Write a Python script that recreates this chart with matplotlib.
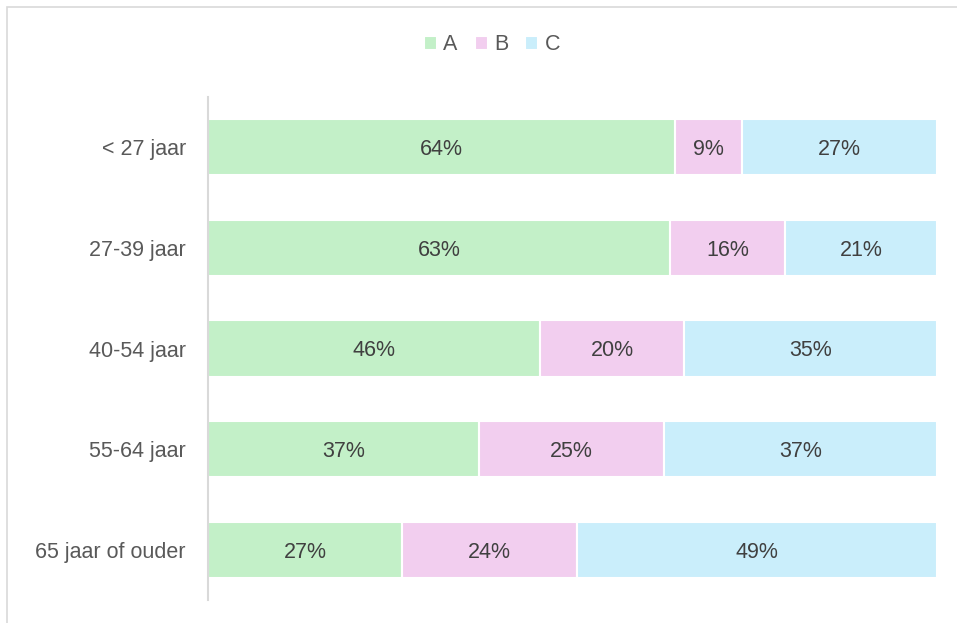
import matplotlib.pyplot as plt
from matplotlib.patches import Rectangle
import numpy as np

plt.rcParams['font.family'] = ['Liberation Sans', 'DejaVu Sans']

# data (share per age group, percent)
categories = ["< 27 jaar", "27-39 jaar", "40-54 jaar", "55-64 jaar", "65 jaar of ouder"]
series_names = ["A", "B", "C"]
a_vals = [64.1, 63.4, 45.6, 37.2, 26.6]
b_vals = [9.2, 15.8, 19.7, 25.4, 24.0]
c_vals = [26.7, 20.8, 34.7, 37.4, 49.4]
colors = ["#C3F0C8", "#F2CEEF", "#CAEEFB"]

fig = plt.figure(figsize=(9.57, 6.23), dpi=100)
# chart area border: only left and top edges are visible in the crop
top = 1 - 7 / 623
fig.patches.append(Rectangle((7 / 957, -0.5), 1.5, top + 0.5, transform=fig.transFigure,
                             fill=False, edgecolor="#D9D9D9", linewidth=1.2))

ax = fig.add_axes([208 / 957, 23 / 623, 729 / 957, 503 / 623])

y = np.arange(len(categories))
left = np.zeros(len(categories))
for name, vals, col in zip(series_names, [a_vals, b_vals, c_vals], colors):
    vals = np.array(vals)
    ax.barh(y, vals, left=left, height=0.56, color=col, edgecolor="white",
            linewidth=1.5, label=name)
    for yi, l, v in zip(y, left, vals):
        ax.text(l + v / 2, yi, f"{v:.0f}%", ha="center", va="center_baseline",
                fontsize=15.5, color="#404040")
    left += vals

ax.set_xlim(0, 100)
ax.set_ylim(len(categories) - 0.5, -0.5)
ax.set_yticks(y)
ax.set_yticklabels(categories, fontsize=15.5, color="#595959", va="center_baseline")
ax.tick_params(axis="y", length=0, pad=16)
ax.set_xticks([])
for s in ["top", "right", "bottom"]:
    ax.spines[s].set_visible(False)
ax.spines["left"].set_color("#D9D9D9")
ax.spines["left"].set_linewidth(1.5)

fig.legend(loc="center", bbox_to_anchor=(492 / 957, 1 - 45 / 623), ncol=3, frameon=False,
           fontsize=15.5, handlelength=0.6, handleheight=0.6, handletextpad=0.3,
           columnspacing=0.8, labelcolor="#595959")

fig.savefig("out.png", dpi=100)
